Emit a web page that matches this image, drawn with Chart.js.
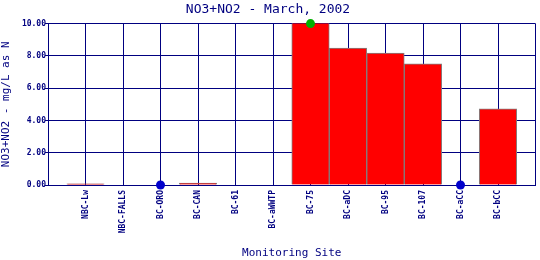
<!DOCTYPE html>
<html>
<head>
<meta charset="utf-8">
<script src="https://cdn.jsdelivr.net/npm/chart.js@4"></script>
<style>
  html, body { margin: 0; padding: 0; background: #fff; }
  canvas { display: block; }
</style>
</head>
<body>
<canvas id="grafico" width="540" height="260"></canvas>
<script>
// sites (empty slots at both ends keep the plot edge half a site away)
var sitios = ['NBC-Lw', 'NBC-FALLS', 'BC-ORO', 'BC-CAN', 'BC-61', 'BC-aWWTP',
              'BC-75', 'BC-aDC', 'BC-95', 'BC-107', 'BC-aCC', 'BC-bCC'];
// NO3+NO2 in mg/L as N, null = no bar
var valores = [0.07, 0, null, 0.12, 0, 0, 10.1, 8.49, 8.18, 7.5, null, 4.72];
// point markers
var puntos = [null, null, 0, null, null, null, 10.0, null, null, null, 0, null];
var coloresPuntos = ['', '', '#0000cc', '', '', '', '#00b000', '', '', '', '#0000cc', ''];
var ticksY = [0, 2, 4, 6, 8, 10];

var azul = '#000080';
var etiquetas = [''].concat(sitios, ['']);
var datosBarras = [null].concat(valores, [null]);
var datosPuntos = [null].concat(puntos, [null]);
var colPts = [''].concat(coloresPuntos, ['']);

var ctx = document.getElementById('grafico').getContext('2d');
var grafico = new Chart(ctx, {
    data: {
        labels: etiquetas,
        datasets: [{
            type: 'bar',
            data: datosBarras,
            backgroundColor: '#ff0000',
            borderColor: '#808080',
            borderWidth: 1,
            barPercentage: 1,
            categoryPercentage: 1,
            order: 2
        }, {
            type: 'line',
            data: datosPuntos,
            showLine: false,
            pointRadius: 4.5,
            pointBackgroundColor: colPts,
            pointBorderColor: colPts,
            pointBorderWidth: 0,
            clip: false,
            order: 1
        }]
    },
    options: {
        responsive: false,
        animation: false,
        devicePixelRatio: 1,
        layout: { padding: { top: 2, right: 4, left: 0, bottom: 0 } },
        plugins: {
            legend: { display: false },
            tooltip: { enabled: false },
            title: {
                display: true,
                text: 'NO3+NO2 - March, 2002',
                color: azul,
                font: { family: 'DejaVu Sans Mono', size: 13, weight: 'normal' },
                padding: { top: 0, bottom: 6 }
            }
        },
        scales: {
            x: {
                offset: false,
                grid: { color: azul, lineWidth: 1, drawTicks: false, offset: false },
                border: { color: azul, width: 1 },
                ticks: {
                    color: azul,
                    font: { family: 'DejaVu Sans Mono', size: 8, weight: 'bold' },
                    maxRotation: 90,
                    minRotation: 90,
                    autoSkip: false,
                    padding: 5
                },
                title: {
                    display: true,
                    text: 'Monitoring Site',
                    color: azul,
                    font: { family: 'DejaVu Sans Mono', size: 11 },
                    padding: { top: 0, bottom: 0 }
                },
                afterFit: function (escala) {
                    escala.height = 75;
                    escala.paddingLeft = 0;
                    escala.paddingRight = 0;
                }
            },
            y: {
                min: 0,
                max: 10,
                afterBuildTicks: function (escala) {
                    escala.ticks = ticksY.map(function (v) { return { value: v }; });
                },
                grid: { color: azul, lineWidth: 1, tickLength: 3 },
                border: { color: azul, width: 1 },
                ticks: {
                    color: azul,
                    font: { family: 'DejaVu Sans Mono', size: 8, weight: 'bold' },
                    padding: -1,
                    callback: function (v) { return v.toFixed(2); }
                },
                title: {
                    display: true,
                    text: 'NO3+NO2 - mg/L as N',
                    color: azul,
                    font: { family: 'DejaVu Sans Mono', size: 11 },
                    padding: { top: 0, bottom: 2 }
                },
                afterFit: function (escala) { escala.width = 48; }
            }
        }
    }
});
</script>
</body>
</html>
